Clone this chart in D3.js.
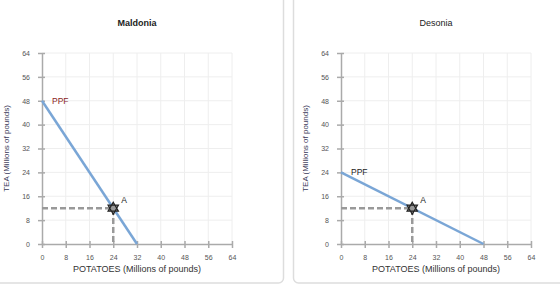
<!DOCTYPE html>
<html>
<head>
<meta charset="utf-8">
<script src="https://cdn.jsdelivr.net/npm/d3@7"></script>
<style>
  body { margin: 0; background: #fff; }
  svg { display: block; font-family: "Liberation Sans", Arial, sans-serif; }
</style>
</head>
<body>
<script>
const W = 560, H = 284;

// data
const countries = ['Maldonia', 'Desonia'];
const ppfTea = [48, 24];       // tea intercept (millions of pounds)
const ppfPotatoes = [32, 48];  // potato intercept
const pointA = [[24, 12], [24, 12]];
const ticks = [0, 8, 16, 24, 32, 40, 48, 56, 64];

const svg = d3.select('body').append('svg')
  .attr('width', W).attr('height', H);

// panel borders
svg.append('rect')
  .attr('x', -10).attr('y', -10).attr('width', 293.5).attr('height', 293)
  .attr('rx', 5).attr('fill', 'none').attr('stroke', '#ddd').attr('stroke-width', 1.5);
svg.append('rect')
  .attr('x', 293.5).attr('y', -10).attr('width', 300).attr('height', 293)
  .attr('rx', 5).attr('fill', 'none').attr('stroke', '#ddd').attr('stroke-width', 1.5);

const offsets = [42, 341];
const plotTop = 53, plotBottom = 244, plotW = 190;

// hexagram path
function hexagram(r) {
  const t = (a) => [r * Math.sin(a), -r * Math.cos(a)];
  const tri = (start) => [0, 1, 2].map(i => t(start + i * 2 * Math.PI / 3));
  const p = (pts) => 'M' + pts.map(d => d.join(',')).join('L') + 'Z';
  return p(tri(0)) + p(tri(Math.PI));
}

countries.forEach((name, i) => {
  const x0 = offsets[i];
  const x = d3.scaleLinear().domain([0, 64]).range([x0, x0 + plotW]);
  const y = d3.scaleLinear().domain([0, 64]).range([plotBottom, plotTop]);
  const g = svg.append('g');

  // title
  g.append('text')
    .attr('x', x(32)).attr('y', 26)
    .attr('text-anchor', 'middle')
    .attr('font-size', 9)
    .attr('font-weight', i === 0 ? 'bold' : 'normal')
    .attr('fill', '#222')
    .text(name);

  // grid
  g.selectAll('.vg').data(ticks.slice(1)).enter().append('line')
    .attr('x1', d => x(d)).attr('x2', d => x(d))
    .attr('y1', y(0)).attr('y2', y(64))
    .attr('stroke', '#eee').attr('stroke-width', 1);
  g.selectAll('.hg').data(ticks.slice(1)).enter().append('line')
    .attr('x1', x(0)).attr('x2', x(64))
    .attr('y1', d => y(d)).attr('y2', d => y(d))
    .attr('stroke', '#eee').attr('stroke-width', 1);

  // axes
  const xAxis = g.append('g').attr('transform', `translate(0,${plotBottom})`)
    .call(d3.axisBottom(x).tickValues(ticks).tickSize(4).tickSizeOuter(0).tickPadding(7));
  const yAxis = g.append('g').attr('transform', `translate(${x0},0)`)
    .call(d3.axisLeft(y).tickValues(ticks).tickSize(4).tickSizeOuter(0).tickPadding(8));
  [xAxis, yAxis].forEach(a => {
    a.select('.domain').attr('stroke', '#aaa').attr('stroke-width', 1.5);
    a.selectAll('.tick line').attr('stroke', '#aaa').attr('stroke-width', 1.5);
    a.selectAll('.tick text').attr('fill', '#555').attr('font-size', 7)
      .attr('font-family', '"Liberation Sans", Arial, sans-serif');
  });
  // ticks crossing the axes
  xAxis.selectAll('.tick line').attr('y1', -3);
  yAxis.selectAll('.tick line').attr('x1', 3);

  // axis titles
  g.append('text')
    .attr('x', x(32)).attr('y', 272)
    .attr('text-anchor', 'middle').attr('font-size', 9).attr('fill', '#333')
    .text('POTATOES (Millions of pounds)');
  g.append('text')
    .attr('transform', `translate(${x0 - 33},${y(32)}) rotate(-90)`)
    .attr('text-anchor', 'middle').attr('font-size', 8).attr('fill', '#3a3a5a')
    .text('TEA (Millions of pounds)');

  // PPF
  g.append('line')
    .attr('x1', x(0)).attr('y1', y(ppfTea[i]))
    .attr('x2', x(ppfPotatoes[i])).attr('y2', y(0))
    .attr('stroke', '#7aa6d6').attr('stroke-width', 2.5);

  // dashed guides
  const [ax, ay] = pointA[i];
  g.append('path')
    .attr('d', `M${x(0)},${y(ay)}H${x(ax)}V${y(0)}`)
    .attr('fill', 'none').attr('stroke', '#999').attr('stroke-width', 2.5)
    .attr('stroke-dasharray', '6,3');

  // point A
  g.append('path')
    .attr('d', hexagram(6))
    .attr('transform', `translate(${x(ax)},${y(ay)})`)
    .attr('fill', '#999').attr('stroke', '#222').attr('stroke-width', 1.2);
  g.append('text')
    .attr('x', x(ax) + 8).attr('y', y(ay) - 5)
    .attr('font-size', 8.5).attr('fill', '#222').text('A');

  // PPF label
  g.append('text')
    .attr('x', x(0) + 10).attr('y', y(ppfTea[i]) + 3)
    .attr('font-size', 8.5).attr('fill', i === 0 ? '#8b1c1c' : '#222')
    .text('PPF');
});
</script>
</body>
</html>
